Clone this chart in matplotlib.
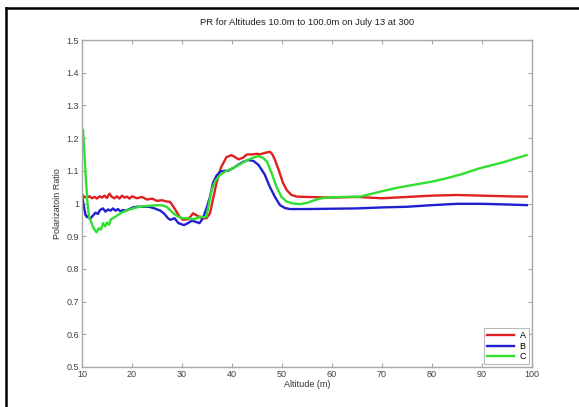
import numpy as np
import matplotlib
matplotlib.use('Agg')
import matplotlib.pyplot as plt
from matplotlib.lines import Line2D

plt.rcParams['font.family'] = ['Liberation Sans', 'DejaVu Sans']

# series A (red)
alt_a = [10.1, 10.5, 11, 11.5, 12, 12.5, 13, 13.5, 14, 14.5,
         15, 15.5, 16, 16.5, 17, 17.5, 18, 18.5, 19, 19.5,
         20, 21, 22, 23, 24, 25, 26, 27, 27.6, 28.3,
         28.9, 29.5, 30.2, 31.2, 31.8, 32.2, 32.8, 33.6, 34.3, 34.9,
         35.6, 36.3, 36.9, 37.8, 38.9, 39.9, 40.6, 41.3, 42.2, 43,
         44, 45, 45.6, 46.6, 47.6, 48.1, 48.6, 49.4, 50.2, 51,
         51.9, 53, 55, 60, 65, 70, 75, 80, 85, 90,
         95, 99]
pr_a = [1.026, 1.02, 1.018, 1.022, 1.016, 1.02, 1.015, 1.022, 1.018, 1.024,
        1.017, 1.03, 1.02, 1.016, 1.022, 1.015, 1.024, 1.018, 1.021, 1.015,
        1.022, 1.016, 1.02, 1.012, 1.015, 1.008, 1.01, 1.006, 1.005, 0.99,
        0.975, 0.96, 0.95, 0.952, 0.962, 0.97, 0.965, 0.958, 0.955, 0.955,
        0.97, 1.02, 1.063, 1.11, 1.142, 1.148, 1.142, 1.135, 1.14, 1.15,
        1.15, 1.152, 1.15, 1.155, 1.158, 1.15, 1.133, 1.1, 1.063, 1.04,
        1.026, 1.021, 1.02, 1.018, 1.02, 1.016, 1.02, 1.024, 1.026, 1.024,
        1.022, 1.021]

# series B (blue)
alt_b = [10.1, 10.4, 10.7, 11.0, 11.3, 11.6, 11.9, 12.3, 12.7, 13.2,
         13.6, 14.2, 14.7, 15.2, 15.7, 16.2, 16.7, 17.2, 17.7, 18.2,
         18.7, 19.5, 20.2, 21, 22, 23.4, 24.5, 25.7, 26.5, 27.2,
         27.7, 28.5, 29.3, 30.4, 31.2, 32, 32.5, 33.5, 34.2, 35,
         35.6, 36.2, 36.9, 37.6, 38.5, 39.2, 40.2, 41.2, 42.3, 43.3,
         44.3, 45.3, 46.5, 47.6, 48.6, 49.6, 50.6, 51.6, 55, 60,
         65, 70, 75, 80, 85, 90, 95, 99]
pr_b = [1.016, 0.99, 0.965, 0.958, 0.962, 0.952, 0.958, 0.965, 0.972, 0.968,
        0.98, 0.985, 0.975, 0.982, 0.978, 0.985, 0.978, 0.983, 0.976, 0.98,
        0.978, 0.983, 0.988, 0.99, 0.99, 0.99, 0.985, 0.978, 0.968, 0.955,
        0.95, 0.955, 0.94, 0.934, 0.94, 0.948, 0.945, 0.94, 0.955, 0.99,
        1.02, 1.063, 1.085, 1.097, 1.1, 1.1, 1.108, 1.118, 1.128, 1.133,
        1.13, 1.118, 1.09, 1.05, 1.02, 0.995, 0.986, 0.983, 0.983, 0.984,
        0.985, 0.988, 0.99, 0.995, 0.999, 0.999, 0.997, 0.995]

# series C (green)
alt_c = [10.2, 10.5, 10.8, 11.1, 11.4, 11.8, 12.3, 12.9, 13.4, 13.8,
         14.2, 14.6, 15.0, 15.4, 15.8, 16.2, 16.7, 17.2, 17.7, 18.2,
         19.2, 20.2, 21.5, 22.8, 24.2, 25.6, 26.3, 26.9, 27.6, 28.3,
         29.3, 30.2, 31.2, 32.2, 33, 33.7, 34.4, 34.9, 35.4, 35.9,
         36.7, 37.6, 38.9, 40.2, 41.6, 43.1, 44.2, 45.3, 46.2, 47,
         48, 48.9, 49.9, 50.9, 52.2, 53.6, 55, 56.3, 57.6, 58.9,
         62, 65.6, 67.5, 69.6, 73, 76.3, 80, 82.9, 86, 89.6,
         94, 98.9]
pr_c = [1.225, 1.15, 1.07, 1.0, 0.96, 0.945, 0.925, 0.912, 0.925, 0.92,
        0.94, 0.93, 0.942, 0.935, 0.952, 0.955, 0.96, 0.965, 0.97, 0.974,
        0.98, 0.985, 0.99, 0.992, 0.994, 0.995, 0.993, 0.99, 0.98, 0.97,
        0.959, 0.955, 0.955, 0.952, 0.955, 0.96, 0.958, 0.96, 1.0, 1.04,
        1.07, 1.087, 1.1, 1.108, 1.12, 1.133, 1.14, 1.145, 1.14, 1.128,
        1.09, 1.051, 1.02, 1.006, 1.0, 0.998, 1.002, 1.009, 1.015, 1.018,
        1.02, 1.021, 1.028, 1.036, 1.048, 1.057, 1.067, 1.077, 1.09, 1.108,
        1.125, 1.148]

x_ticks = [10, 20, 30, 40, 50, 60, 70, 80, 90, 100]
y_ticks = [0.5, 0.6, 0.7, 0.8, 0.9, 1.0, 1.1, 1.2, 1.3, 1.4, 1.5]
y_labels = ['0.5', '0.6', '0.7', '0.8', '0.9', '1', '1.1', '1.2', '1.3', '1.4', '1.5']

fig = plt.figure(figsize=(5.79, 4.07), dpi=100)
ax = fig.add_axes([0.1416, 0.0983, 0.7772, 0.8034])

ax.plot(alt_a, pr_a, color='#e02020', lw=1.7, label='A')
ax.plot(alt_b, pr_b, color='#2020d0', lw=1.7, label='B')
ax.plot(alt_c, pr_c, color='#30e030', lw=1.7, label='C')

ax.set_xlim(10, 100)
ax.set_ylim(0.5, 1.5)
ax.set_xticks(x_ticks)
ax.set_yticks(y_ticks)
ax.set_yticklabels(y_labels)

gray = '#a8a8a8'
for s in ax.spines.values():
    s.set_color(gray)
    s.set_linewidth(1.0)
ax.tick_params(direction='in', length=3, width=0.8, color=gray,
               labelsize=6.5, labelcolor='#404040', top=True, right=True, pad=2)

ax.set_xlabel('Altitude (m)', fontsize=6.5, color='#303030', labelpad=1)
ax.set_ylabel('Polarizatoin Ratio', fontsize=6.5, color='#303030', labelpad=3)
ax.set_title('PR for Altitudes 10.0m to 100.0m on July 13 at 300',
             fontsize=6.8, color='#202020', pad=11)

leg = ax.legend(loc='lower right', fontsize=6.5, handlelength=3.0,
                handletextpad=0.6, labelspacing=0.15, borderpad=0.35,
                fancybox=False, borderaxespad=0.3)
leg.get_frame().set_edgecolor(gray)
leg.get_frame().set_linewidth(0.8)

# black frame around the page (left and top edges visible)
fig.add_artist(Line2D([6 / 579, 6 / 579], [0, 1 - 8 / 407], color='black', lw=1.8,
                      transform=fig.transFigure))
fig.add_artist(Line2D([6 / 579, 1], [1 - 8 / 407, 1 - 8 / 407], color='black', lw=1.8,
                      transform=fig.transFigure))

fig.savefig('out.png', dpi=100)
